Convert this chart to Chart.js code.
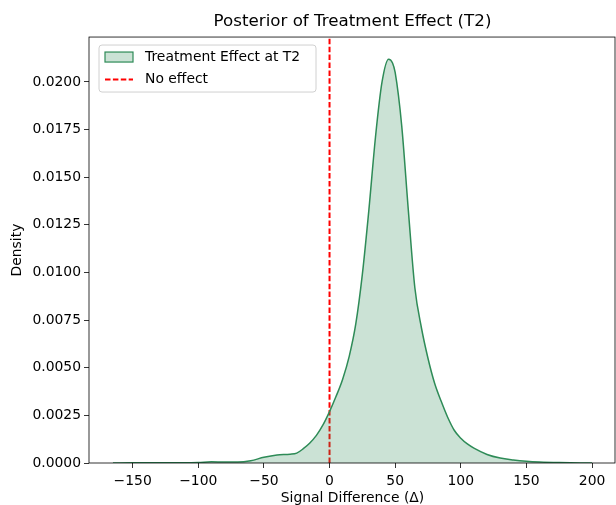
<!DOCTYPE html>
<html>
<head>
<meta charset="utf-8">
<script src="https://cdn.jsdelivr.net/npm/chart.js@4.4.1/dist/chart.umd.min.js"></script>
<style>
  html, body { margin: 0; padding: 0; background: #fff; }
  #wrap { width: 616px; height: 505px; }
</style>
</head>
<body>
<div id="wrap"><canvas id="chart" width="616" height="505"></canvas></div>
<script>
// posterior KDE of the T2 treatment effect
const deltaValues = [-165, -150, -125, -100, -90, -80, -70, -60, -50, -40, -30, -25, -20, -15, -10, -5,
  0, 5, 10, 15, 20, 25, 30, 35, 40, 45, 48, 50, 55, 60, 65, 70, 75, 80, 85, 90, 95,
  100, 105, 110, 120, 130, 140, 150, 160, 175, 200];
const densityValues = [0, 0.00001, 0.00001, 0.00003, 0.00006, 0.00005, 0.00005, 0.00012, 0.00030, 0.00042, 0.00046, 0.00052, 0.00075, 0.00105, 0.00145, 0.00200,
  0.00270, 0.00350, 0.00440, 0.00560, 0.00730, 0.00990, 0.01330, 0.01710, 0.02000, 0.02120, 0.02100, 0.02050, 0.01770, 0.01330, 0.00920, 0.00710, 0.00550, 0.00420, 0.00325, 0.00240, 0.00172,
  0.00130, 0.00100, 0.00078, 0.00045, 0.00026, 0.00016, 0.00009, 0.00005, 0.00002, 0];

const noEffectX = 0;
const xTickValues = [-150, -100, -50, 0, 50, 100, 150, 200];
const yTickValues = [0, 0.0025, 0.005, 0.0075, 0.01, 0.0125, 0.015, 0.0175, 0.02];
const xRange = [-183.25, 218.25];
const yRange = [0, 0.02236];

const legendItems = [
  { label: 'Treatment Effect at T2', kind: 'patch' },
  { label: 'No effect', kind: 'dash' }
];

const FONT = 'DejaVu Sans';
const green = '#2e8b57';

const kdePoints = deltaValues.map((x, i) => ({ x, y: densityValues[i] }));

// top/right spines like matplotlib
const framePlugin = {
  id: 'frame',
  afterDraw(chart) {
    const { ctx, chartArea: a } = chart;
    ctx.save();
    ctx.strokeStyle = '#000';
    ctx.lineWidth = 0.8;
    ctx.strokeRect(a.left, a.top, a.right - a.left - 1, a.bottom - a.top);
    ctx.restore();
  }
};

// boxed legend in the upper left, matplotlib style
const boxLegend = {
  id: 'boxLegend',
  afterDraw(chart) {
    const { ctx, chartArea: a } = chart;
    const x0 = a.left + 10, y0 = a.top + 8, w = 217, h = 47;
    ctx.save();
    ctx.beginPath();
    ctx.roundRect(x0, y0, w, h, 3);
    ctx.fillStyle = 'rgba(255,255,255,0.8)';
    ctx.fill();
    ctx.strokeStyle = '#d0d0d0';
    ctx.lineWidth = 1;
    ctx.stroke();
    ctx.font = `13.9px "${FONT}"`;
    ctx.textBaseline = 'middle';
    legendItems.forEach((it, i) => {
      const cy = y0 + 12 + i * 22.5;
      if (it.kind === 'patch') {
        ctx.fillStyle = 'rgba(46,139,87,0.25)';
        ctx.fillRect(x0 + 6, cy - 5, 28, 10);
        ctx.strokeStyle = green;
        ctx.lineWidth = 1.2;
        ctx.strokeRect(x0 + 6, cy - 5, 28, 10);
      } else {
        ctx.strokeStyle = '#ff0000';
        ctx.lineWidth = 2;
        ctx.setLineDash([5.5, 2.4]);
        ctx.beginPath();
        ctx.moveTo(x0 + 6, cy);
        ctx.lineTo(x0 + 34, cy);
        ctx.stroke();
        ctx.setLineDash([]);
      }
      ctx.fillStyle = '#000';
      ctx.fillText(it.label, x0 + 46, cy);
    });
    ctx.restore();
  }
};

new Chart(document.getElementById('chart'), {
  type: 'line',
  data: {
    datasets: [
      {
        label: 'Treatment Effect at T2',
        data: kdePoints,
        borderColor: green,
        borderWidth: 1.5,
        backgroundColor: 'rgba(46,139,87,0.25)',
        fill: 'origin',
        pointRadius: 0,
        cubicInterpolationMode: 'monotone'
      },
      {
        label: 'No effect',
        data: [{ x: noEffectX, y: yRange[0] }, { x: noEffectX, y: yRange[1] }],
        borderColor: '#ff0000',
        borderWidth: 2,
        borderDash: [5.5, 2.4],
        pointRadius: 0,
        fill: false
      }
    ]
  },
  options: {
    responsive: false,
    animation: false,
    layout: { padding: { left: 0, right: 0, top: 0, bottom: 0 } },
    plugins: {
      legend: { display: false },
      tooltip: { enabled: false },
      title: {
        display: true,
        text: 'Posterior of Treatment Effect (T2)',
        fullSize: false,
        color: '#000',
        font: { family: FONT, size: 16.7, weight: 'normal', lineHeight: 1.2 },
        padding: { top: 12, bottom: 5 }
      }
    },
    scales: {
      x: {
        type: 'linear',
        min: xRange[0],
        max: xRange[1],
        afterBuildTicks: s => { s.ticks = xTickValues.map(v => ({ value: v })); },
        afterFit: s => { s.height = 42; },
        ticks: {
          color: '#000',
          font: { family: FONT, size: 13.9 },
          padding: 5,
          maxRotation: 0,
          autoSkip: false,
          callback: v => (v < 0 ? '\u2212' + Math.abs(v) : String(v))
        },
        grid: { drawOnChartArea: false, tickLength: 5, color: '#000', lineWidth: 0.8 },
        border: { display: false },
        title: {
          display: true,
          text: 'Signal Difference (\u0394)',
          color: '#000',
          font: { family: FONT, size: 13.9, lineHeight: 1 },
          padding: { top: -1, bottom: 0 }
        }
      },
      y: {
        type: 'linear',
        min: yRange[0],
        max: yRange[1],
        afterBuildTicks: s => { s.ticks = yTickValues.map(v => ({ value: v })); },
        afterFit: s => { s.width = 89; },
        ticks: {
          color: '#000',
          font: { family: FONT, size: 13.9 },
          padding: 3,
          autoSkip: false,
          callback: v => v.toFixed(4)
        },
        grid: { drawOnChartArea: false, tickLength: 5, color: '#000', lineWidth: 0.8 },
        border: { display: false },
        title: {
          display: true,
          text: 'Density',
          color: '#000',
          font: { family: FONT, size: 13.9, lineHeight: 1 },
          padding: { top: 10, bottom: 0 }
        }
      }
    }
  },
  plugins: [framePlugin, boxLegend]
});
</script>
</body>
</html>
